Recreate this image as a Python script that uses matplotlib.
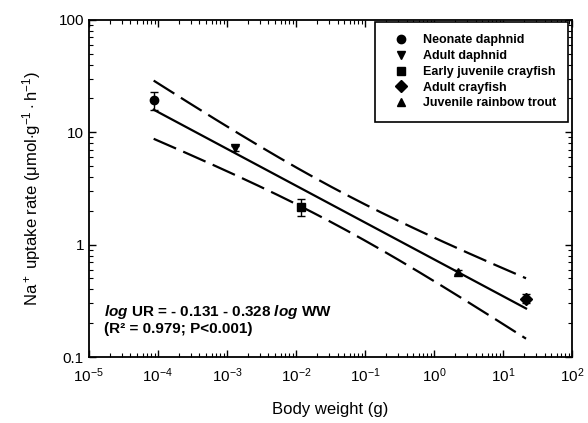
import numpy as np
import matplotlib
matplotlib.use("Agg")
import matplotlib.pyplot as plt
from matplotlib.lines import Line2D

plt.rcParams['font.family'] = ['Liberation Sans', 'DejaVu Sans']
plt.rcParams['mathtext.fontset'] = 'custom'
plt.rcParams['mathtext.rm'] = 'Liberation Sans'
plt.rcParams['mathtext.it'] = 'Liberation Sans:italic:bold'
plt.rcParams['mathtext.bf'] = 'Liberation Sans:bold'

# data
groups = ['Neonate daphnid', 'Adult daphnid', 'Early juvenile crayfish',
          'Adult crayfish', 'Juvenile rainbow trout']
markers = ['o', 'v', 's', 'D', '^']
weight = [8.7e-5, 1.3e-3, 0.0117, 21.5, 2.2]
uptake = [19.5, 7.2, 2.18, 0.33, 0.57]
err_lo = [3.6, 0.4, 0.4, 0.03, 0.02]
err_hi = [3.5, 0.4, 0.35, 0.03, 0.02]

# regression reported on the figure
a, b = -0.131, -0.328

fig = plt.figure(figsize=(5.88, 4.23), dpi=100)
ax = fig.add_axes([0.151, 0.156, 0.822, 0.797])

for m, x, y, lo, hi in zip(markers, weight, uptake, err_lo, err_hi):
    ax.errorbar([x], [y], yerr=[[lo], [hi]], fmt=m, color='black', ms=6,
                capsize=3, elinewidth=1, capthick=1, zorder=3)

# fitted line and confidence band
lx = np.log10(weight)
ly = np.log10(uptake)
n = len(lx)
xs = np.linspace(lx.min(), lx.max(), 200)
yfit = a + b * xs
resid = ly - (a + b * lx)
s = np.sqrt(np.sum(resid ** 2) / (n - 2))
sxx = np.sum((lx - lx.mean()) ** 2)
half = 2.9 * s * np.sqrt(1.0 / n + (xs - lx.mean()) ** 2 / sxx)

ax.plot(10 ** xs, 10 ** yfit, color='black', lw=1.6)
ax.plot(10 ** xs, 10 ** (yfit + half), color='black', lw=1.6, dashes=(11, 3.5))
ax.plot(10 ** xs, 10 ** (yfit - half), color='black', lw=1.6, dashes=(11, 3.5))

ax.set_xscale('log')
ax.set_yscale('log')
ax.set_xlim(1e-5, 1e2)
ax.set_ylim(0.1, 100)
ax.set_xticks([10.0 ** k for k in range(-5, 3)])
ax.set_xticklabels([r'$10^{%d}$' % k for k in range(-5, 3)])
ax.set_yticks([0.1, 1, 10, 100])
ax.set_yticklabels(['0.1', '1', '10', '100'])

ax.tick_params(which='both', direction='in', top=True, right=True, labelsize=11)
ax.tick_params(which='major', length=5, width=1)
ax.tick_params(which='minor', length=3, width=0.8)
ax.tick_params(axis='x', pad=7)
for sp in ax.spines.values():
    sp.set_linewidth(1.3)

ax.set_xlabel('Body weight (g)', fontsize=12, labelpad=12)
ax.set_ylabel(r'Na$^+$ uptake rate ($\mathrm{\mu}$mol$\cdot$g$^{-1}\cdot$h$^{-1}$)',
              fontsize=12, labelpad=11)

ax.text(0.031, 0.134, r'$log$ UR = - 0.131 - 0.328 $log$ WW', transform=ax.transAxes,
        fontsize=11, fontweight='bold', va='center')
ax.text(0.031, 0.083, '(R² = 0.979; P<0.001)', transform=ax.transAxes,
        fontsize=11, fontweight='bold', va='center')

handles = [Line2D([], [], marker=m, color='black', ls='none', ms=6) for m in markers]
leg = ax.legend(handles, groups, loc='upper right', bbox_to_anchor=(0.992, 0.994),
                borderaxespad=0, fancybox=False, edgecolor='black', framealpha=1,
                prop={'weight': 'bold', 'size': 9}, handletextpad=0.6,
                labelspacing=0.3, borderpad=1.0, handlelength=2.2)
leg.get_frame().set_linewidth(1.2)

fig.savefig('out.png', dpi=100)
